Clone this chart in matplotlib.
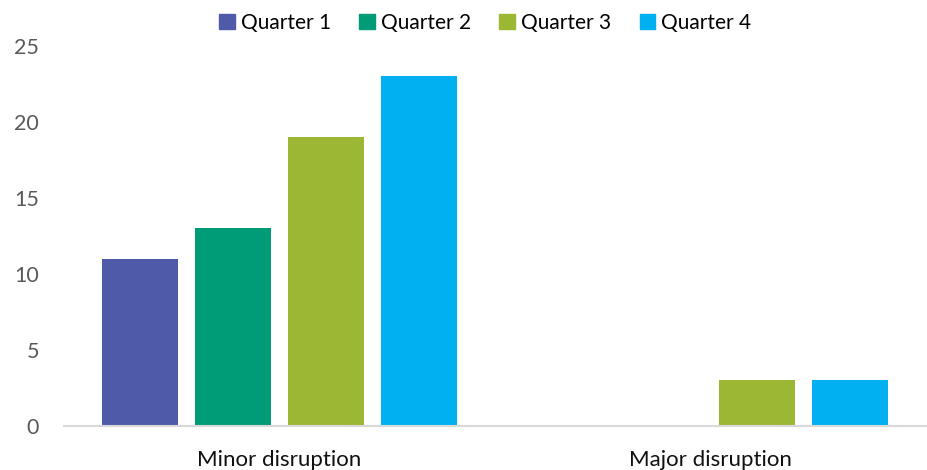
import numpy as np
import matplotlib.pyplot as plt
from matplotlib.patches import Patch

plt.rcParams['font.family'] = ['Lato', 'DejaVu Sans']

categories = ['Minor disruption', 'Major disruption']
series_names = ['Quarter 1', 'Quarter 2', 'Quarter 3', 'Quarter 4']
values = [
    [11, 0],   # Quarter 1
    [13, 0],   # Quarter 2
    [19, 3],   # Quarter 3
    [23, 3],   # Quarter 4
]
colors = ['#4F5BA9', '#009B77', '#9BB733', '#00B0F0']

fig = plt.figure(figsize=(9.28, 4.70), dpi=100)
ax = fig.add_axes([0.069, 0.0936, 0.929, 0.8085])

x = np.arange(len(categories))
step = 0.216
width = 0.176
for i, (name, vals) in enumerate(zip(series_names, values)):
    ax.bar(x + (i - 1.5) * step, vals, width, color=colors[i], label=name)

ax.set_xlim(-0.5, 1.5)
ax.set_ylim(0, 25)
ax.set_yticks(range(0, 26, 5))
ax.set_xticks(x)
ax.set_xticklabels(categories, fontsize=16, color='#111111')
ax.tick_params(axis='y', length=0, labelsize=15.5, labelcolor='#595959', pad=18)
ax.tick_params(axis='x', length=0, pad=17)

for s in ['top', 'right', 'left']:
    ax.spines[s].set_visible(False)
ax.spines['bottom'].set_color('#D9D9D9')
ax.spines['bottom'].set_linewidth(1.5)

handles = [Patch(color=c) for c in colors]
fig.legend(handles, series_names, loc='upper center', bbox_to_anchor=(0.523, 1.012),
           ncol=4, frameon=False, fontsize=15, handlelength=0.75, handleheight=0.75,
           handletextpad=0.3, columnspacing=1.35)

fig.savefig('out.png', dpi=100)
